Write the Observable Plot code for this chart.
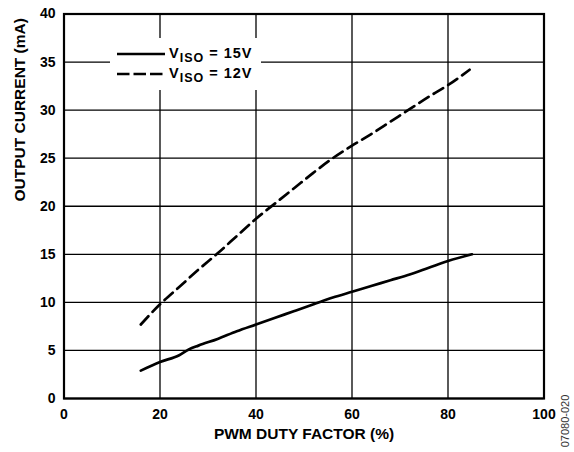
<!DOCTYPE html>
<html><head><meta charset="utf-8">
<script src="https://cdn.jsdelivr.net/npm/d3@7"></script>
<script src="https://cdn.jsdelivr.net/npm/@observablehq/plot@0.6"></script>
<style>body{margin:0;background:#fff}#chart{position:relative;width:574px;height:452px}</style>
</head><body><div id="chart"></div>
<script>
// V_ISO = 15V
const duty15 = [16, 20, 24, 26, 28, 32, 36, 40, 44, 48, 52, 56, 60, 64, 68, 72, 76, 80, 85];
const current15 = [2.9, 3.8, 4.5, 5.1, 5.5, 6.2, 7.0, 7.7, 8.4, 9.1, 9.8, 10.5, 11.1, 11.7, 12.3, 12.9, 13.6, 14.3, 15.0];
// V_ISO = 12V
const duty12 = [16, 20, 24, 28, 32, 36, 40, 44, 48, 52, 56, 60, 64, 68, 72, 76, 80, 84.5];
const current12 = [7.7, 9.8, 11.6, 13.4, 15.1, 16.9, 18.7, 20.3, 21.9, 23.5, 25.0, 26.3, 27.5, 28.8, 30.1, 31.4, 32.6, 34.2];

const xTicks = [0, 20, 40, 60, 80, 100];
const yTicks = [0, 5, 10, 15, 20, 25, 30, 35, 40];
const xLabel = "PWM DUTY FACTOR (%)";
const yLabel = "OUTPUT CURRENT (mA)";
const seriesNames = ["15V", "12V"];
const figureId = "07080-020";

const s15 = duty15.map((d, i) => ({x: d, y: current15[i]}));
const s12 = duty12.map((d, i) => ({x: d, y: current12[i]}));
const FONT = "'Liberation Sans', Arial, sans-serif";

const chart = Plot.plot({
  width: 574, height: 452,
  marginLeft: 63.5, marginRight: 30.5, marginTop: 13.5, marginBottom: 54,
  style: {fontFamily: FONT, fontSize: "14px", fontWeight: "bold", color: "#000", background: "#fff"},
  x: {domain: [0, 100], ticks: xTicks, tickSize: 0, tickPadding: 11, label: null},
  y: {domain: [0, 40], ticks: yTicks, tickSize: 0, tickPadding: 8.5, label: null},
  marks: [
    Plot.ruleX(xTicks, {stroke: "#000", strokeWidth: 1.3}),
    Plot.ruleY(yTicks, {stroke: "#000", strokeWidth: 1.3}),
    Plot.frame({stroke: "#000", strokeWidth: 2.2}),
    Plot.line(s15, {x: "x", y: "y", stroke: "#000", strokeWidth: 2.7, curve: "monotone-x"}),
    Plot.line(s12, {x: "x", y: "y", stroke: "#000", strokeWidth: 2.7, strokeDasharray: "11,6", curve: "monotone-x"}),
    Plot.text([xLabel], {text: d => d, frameAnchor: "bottom", dy: 40, fontSize: 15.5, fontWeight: "bold"}),
    Plot.text([yLabel], {text: d => d, frameAnchor: "left", dx: -43.5, dy: -4.75, rotate: -90, fontSize: 15.5, fontWeight: "bold"})
  ]
});
document.getElementById("chart").appendChild(chart);

// Legend
const svg = d3.select(chart);
const lg = svg.append("g");
lg.append("rect").attr("x", 110).attr("y", 38).attr("width", 151).attr("height", 52).attr("fill", "#fff");
seriesNames.forEach((name, i) => {
  const y = 54 + i * 20;
  lg.append("line").attr("x1", 117).attr("x2", 165).attr("y1", y).attr("y2", y)
    .attr("stroke", "#000").attr("stroke-width", 2.7)
    .attr("stroke-dasharray", i === 1 ? "12.5,4" : null);
  const t = lg.append("text").attr("x", 169).attr("y", y + 4)
    .attr("text-anchor", "start")
    .attr("font-family", FONT).attr("font-weight", "bold").attr("font-size", 14.5)
    .attr("letter-spacing", 1);
  t.append("tspan").text("V");
  t.append("tspan").attr("font-size", 12.5).attr("dy", 4).text("ISO");
  t.append("tspan").attr("dy", -4).text(" = " + name);
});
// figure id
svg.append("text").attr("transform", "translate(569,421) rotate(-90)")
  .attr("text-anchor", "middle").attr("font-family", FONT)
  .attr("font-size", 11).attr("fill", "#333").attr("font-weight", "normal").text(figureId);
</script>
</body></html>
